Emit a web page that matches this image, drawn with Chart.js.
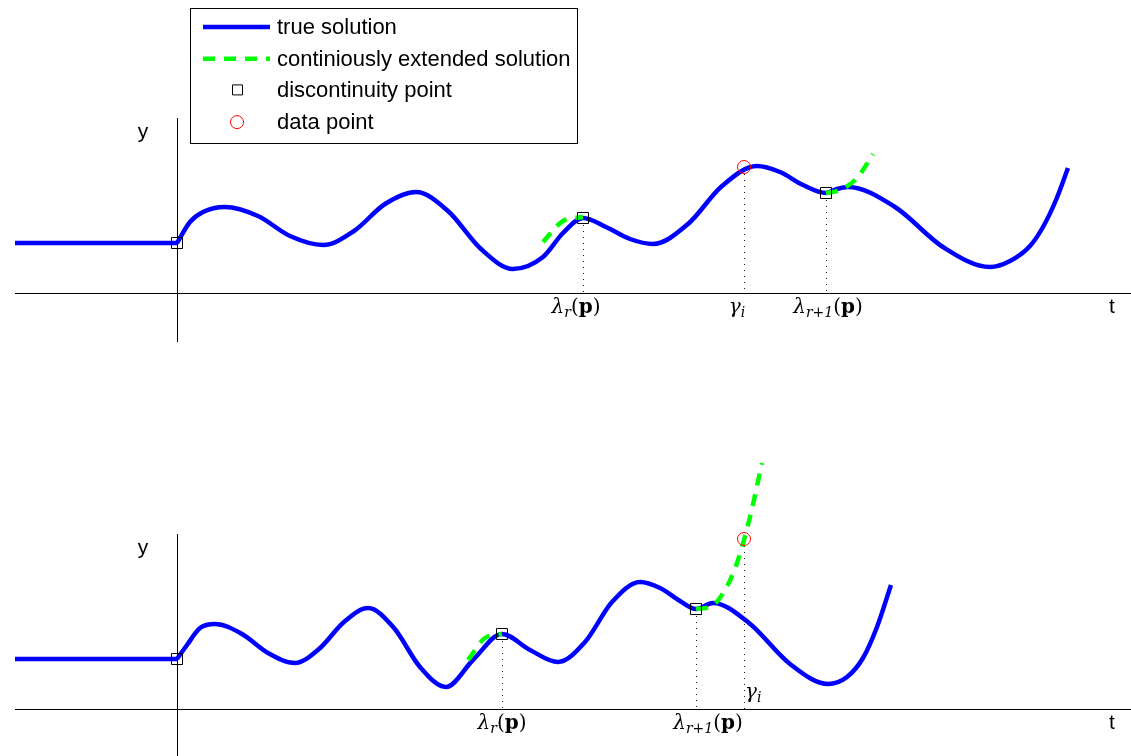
<!DOCTYPE html>
<html>
<head>
<meta charset="utf-8">
<script src="https://cdn.jsdelivr.net/npm/chart.js@4.4.0/dist/chart.umd.min.js"></script>
<style>
  body { margin: 0; background: #fff; }
  canvas { display: block; }
</style>
</head>
<body>
<canvas id="upper" width="1131" height="378"></canvas>
<canvas id="lower" width="1131" height="378"></canvas>
<script>
// ---- upper panel: data point lies on the true solution ----
var top_history_t = [-1.62, 0];
var top_history_y = [0.50, 0.50];

var top_true_t = [0, 0.13, 0.26, 0.48, 0.81, 1.13, 1.46, 1.77, 2.08, 2.39, 2.71, 3.04, 3.36,
  3.66, 3.86, 4.06, 4.29, 4.53, 4.76, 5.11, 5.45, 5.80, 6.03, 6.26, 6.49, 6.60, 6.71,
  7.18, 7.66, 8.13, 8.33, 8.53, 8.66, 8.79, 8.91];
var top_true_y = [0.50, 0.71, 0.81, 0.86, 0.77, 0.57, 0.48, 0.62, 0.89, 1.01, 0.82, 0.44, 0.24,
  0.36, 0.60, 0.75, 0.66, 0.54, 0.49, 0.69, 1.07, 1.27, 1.21, 1.08, 1.00, 1.04, 1.06,
  0.86, 0.46, 0.26, 0.32, 0.47, 0.66, 0.93, 1.25];

var top_ext1_t = [3.66, 3.86, 4.06];
var top_ext1_y = [0.51, 0.72, 0.76];
var top_ext2_t = [6.49, 6.63, 6.80, 6.96];
var top_ext2_y = [1.00, 1.03, 1.15, 1.39];

var top_disc_t = [0, 4.06, 6.49];
var top_disc_y = [0.50, 0.75, 1.00];
var top_data_t = [5.67];
var top_data_y = [1.26];

var top_tick_t = [4.06, 5.67, 6.49];
var top_tick_y = [0.75, 1.26, 1.00];
var top_tick_labels = ["λ_r(p)", "γ_i", "λ_r+1(p)"];

// ---- lower panel: data point lies on the extension ----
var bot_history_t = [-1.62, 0];
var bot_history_y = [0.50, 0.50];

var bot_true_t = [0, 0.10, 0.23, 0.38, 0.65, 0.91, 1.18, 1.42, 1.67, 1.91, 2.17, 2.43, 2.69,
  2.96, 3.25, 3.53, 3.81, 4.08, 4.35, 4.63, 4.83, 5.03, 5.19, 5.36, 5.72, 6.13, 6.51,
  6.70, 6.86, 7.00, 7.14];
var bot_true_y = [0.50, 0.64, 0.81, 0.85, 0.75, 0.56, 0.46, 0.60, 0.87, 1.01, 0.81, 0.42, 0.22,
  0.49, 0.75, 0.59, 0.47, 0.67, 1.07, 1.27, 1.21, 1.08, 1.00, 1.06, 0.86, 0.45, 0.25,
  0.32, 0.51, 0.82, 1.24];

var bot_ext1_t = [2.91, 3.08, 3.25];
var bot_ext1_y = [0.49, 0.71, 0.75];
var bot_ext2_t = [5.19, 5.35, 5.48, 5.60, 5.73, 5.85];
var bot_ext2_y = [1.00, 1.03, 1.19, 1.46, 1.92, 2.46];

var bot_disc_t = [0, 3.25, 5.19];
var bot_disc_y = [0.50, 0.75, 1.00];
var bot_data_t = [5.67];
var bot_data_y = [1.70];

var bot_tick_t = [3.25, 5.19, 5.67];
var bot_tick_y = [0.75, 1.00, 1.70];
var bot_tick_labels = ["λ_r(p)", "λ_r+1(p)", "γ_i"];

function pts(ts, ys) {
  return ts.map(function (t, i) { return { x: t, y: ys[i] }; });
}

var BLUE = "#0000ff";
var GREEN = "#00ff00";

function lineSet(label, ts, ys, color, dashed) {
  return {
    label: label,
    data: pts(ts, ys),
    borderColor: color,
    borderWidth: 4.5,
    borderDash: dashed ? [12, 9] : [],
    pointRadius: 0,
    fill: false,
    cubicInterpolationMode: "monotone",
    order: dashed ? 1 : 2,
  };
}

// draws "λ_r+1(p)" style labels: symbol, subscript, optional (p)
function drawMath(ctx, str, x, baseY, align) {
  var m = str.match(/^(.)_([^()]+)(\(p\))?$/);
  var parts = [
    { text: m[1], font: 'italic 20px "DejaVu Serif"', dy: 0 },
    { text: m[2], font: 'italic 14px "DejaVu Serif"', dy: 4 },
  ];
  if (m[3]) {
    parts.push({ text: "(", font: '20px "DejaVu Serif"', dy: 0 });
    parts.push({ text: "p", font: 'bold 20px "DejaVu Serif"', dy: 0 });
    parts.push({ text: ")", font: '20px "DejaVu Serif"', dy: 0 });
  }
  var w = 0;
  parts.forEach(function (p) { ctx.font = p.font; p.w = ctx.measureText(p.text).width; w += p.w; });
  var cx = align === "left" ? x : x - w / 2;
  ctx.textBaseline = "alphabetic";
  ctx.textAlign = "left";
  parts.forEach(function (p) {
    ctx.font = p.font;
    ctx.fillText(p.text, cx, baseY + p.dy);
    cx += p.w;
  });
}

const axesPlugin = {
  id: "axes",
  beforeDatasetsDraw(chart, args, opts) {
    const ctx = chart.ctx, xs = chart.scales.x, ys = chart.scales.y;
    const y0 = Math.round(ys.getPixelForValue(0)) + 0.5;
    const x0 = Math.round(xs.getPixelForValue(0)) + 0.5;
    ctx.save();
    ctx.strokeStyle = "#000";
    ctx.lineWidth = 1;
    ctx.beginPath();
    ctx.moveTo(xs.getPixelForValue(opts.tStart), y0);
    ctx.lineTo(chart.width, y0);
    ctx.moveTo(x0, ys.getPixelForValue(opts.yTop));
    ctx.lineTo(x0, ys.getPixelForValue(opts.yBottom));
    ctx.stroke();
    // dotted guides from the marks down to the t axis
    ctx.setLineDash([1, 5]);
    ctx.strokeStyle = "#222";
    opts.tickT.forEach(function (t, i) {
      const px = Math.round(xs.getPixelForValue(t)) + 0.5;
      ctx.beginPath();
      ctx.moveTo(px, ys.getPixelForValue(opts.tickY[i]) + 7);
      ctx.lineTo(px, y0);
      ctx.stroke();
    });
    ctx.restore();
  },
  afterDraw(chart, args, opts) {
    const ctx = chart.ctx, xs = chart.scales.x, ys = chart.scales.y;
    const y0 = ys.getPixelForValue(0);
    ctx.save();
    ctx.fillStyle = "#000";
    ctx.font = '21px "Liberation Sans"';
    ctx.textAlign = "center";
    ctx.textBaseline = "middle";
    ctx.fillText("y", xs.getPixelForValue(0) - 34, ys.getPixelForValue(opts.yTop) + 14);
    ctx.fillText("t", 1112, y0 + 14);
    opts.tickLabels.forEach(function (lab, i) {
      const pl = opts.place[i];
      drawMath(ctx, lab, xs.getPixelForValue(opts.tickT[i]) + pl.dx, y0 + pl.dy, pl.align);
    });
    ctx.restore();
  },
};

const legendPlugin = {
  id: "boxLegend",
  afterDraw(chart, args, opts) {
    if (!opts.show) return;
    const ctx = chart.ctx;
    const sets = chart.data.datasets;
    const find = function (lab) { return sets.find(function (d) { return d.label === lab; }); };
    ctx.save();
    ctx.fillStyle = "#fff";
    ctx.fillRect(190, 8, 387, 135);
    ctx.strokeStyle = "#000";
    ctx.lineWidth = 1;
    ctx.strokeRect(190.5, 8.5, 387, 135);
    ctx.font = '22px "Liberation Sans"';
    ctx.textBaseline = "middle";
    ctx.textAlign = "left";
    opts.items.forEach(function (lab, i) {
      const d = find(lab);
      const y = 27 + i * 31.7;
      if (d.showLine === false) {
        ctx.lineWidth = d.borderWidth;
        ctx.strokeStyle = d.borderColor;
        ctx.setLineDash([]);
        ctx.beginPath();
        if (d.pointStyle === "rect") {
          ctx.rect(232.5, y - 5.5, 10, 10);
        } else {
          ctx.arc(237, y, d.pointRadius, 0, Math.PI * 2);
        }
        ctx.stroke();
      } else {
        ctx.lineWidth = d.borderWidth;
        ctx.strokeStyle = d.borderColor;
        ctx.setLineDash(d.borderDash);
        ctx.beginPath();
        ctx.moveTo(203, y);
        ctx.lineTo(270, y);
        ctx.stroke();
      }
      ctx.fillStyle = "#000";
      ctx.fillText(lab, 277, y + 1);
    });
    ctx.restore();
  },
};

function makeChart(id, parts, yMin, yMax, axesOpts, showLegend) {
  return new Chart(document.getElementById(id), {
    type: "line",
    data: {
      datasets: [
        lineSet("history", parts.histT, parts.histY, BLUE, false),
        lineSet("true solution", parts.trueT, parts.trueY, BLUE, false),
        lineSet("continiously extended solution", parts.ext1T, parts.ext1Y, GREEN, true),
        lineSet("extension 2", parts.ext2T, parts.ext2Y, GREEN, true),
        {
          label: "discontinuity point",
          data: pts(parts.discT, parts.discY),
          showLine: false,
          pointStyle: "rect",
          pointRadius: 7.8,
          borderWidth: 1,
          borderColor: "#000",
          backgroundColor: "rgba(0,0,0,0)",
          order: 0,
        },
        {
          label: "data point",
          data: pts(parts.dataT, parts.dataY),
          showLine: false,
          pointStyle: "circle",
          pointRadius: 6.5,
          borderWidth: 1,
          borderColor: "#ff0000",
          backgroundColor: "rgba(0,0,0,0)",
          order: 0,
        },
      ],
    },
    options: {
      responsive: false,
      animation: false,
      events: [],
      layout: { padding: 0, autoPadding: false },
      scales: {
        x: { type: "linear", display: false, min: -1.77, max: 9.54 },
        y: { type: "linear", display: false, min: yMin, max: yMax },
      },
      plugins: {
        legend: { display: false },
        tooltip: { enabled: false },
        axes: axesOpts,
        boxLegend: {
          show: showLegend,
          items: ["true solution", "continiously extended solution", "discontinuity point", "data point"],
        },
      },
    },
    plugins: [axesPlugin, legendPlugin],
  });
}

var upper = makeChart("upper", {
  histT: top_history_t, histY: top_history_y,
  trueT: top_true_t, trueY: top_true_y,
  ext1T: top_ext1_t, ext1Y: top_ext1_y,
  ext2T: top_ext2_t, ext2Y: top_ext2_y,
  discT: top_disc_t, discY: top_disc_y,
  dataT: top_data_t, dataY: top_data_y,
}, -0.85, 2.93, {
  tStart: -1.62, yTop: 1.75, yBottom: -0.49,
  tickT: top_tick_t, tickY: top_tick_y, tickLabels: top_tick_labels,
  place: [{ dx: -7, dy: 20 }, { dx: -7, dy: 20 }, { dx: 2, dy: 20 }],
}, true);

var lower = makeChart("lower", {
  histT: bot_history_t, histY: bot_history_y,
  trueT: bot_true_t, trueY: bot_true_y,
  ext1T: bot_ext1_t, ext1Y: bot_ext1_y,
  ext2T: bot_ext2_t, ext2Y: bot_ext2_y,
  discT: bot_disc_t, discY: bot_disc_y,
  dataT: bot_data_t, dataY: bot_data_y,
}, -0.47, 3.31, {
  tStart: -1.62, yTop: 1.75, yBottom: -0.47,
  tickT: bot_tick_t, tickY: bot_tick_y, tickLabels: bot_tick_labels,
  place: [{ dx: 0, dy: 20 }, { dx: 12, dy: 20 }, { dx: 1, dy: -11, align: "left" }],
}, false);
</script>
</body>
</html>
